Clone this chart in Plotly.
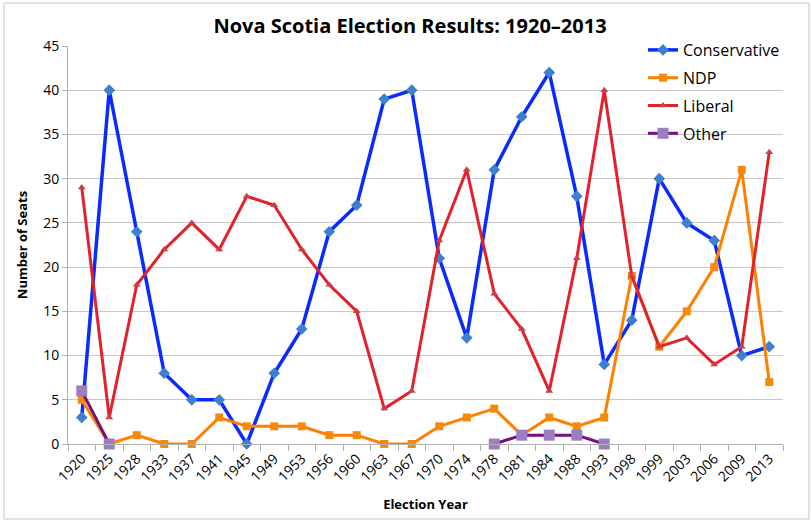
import plotly.graph_objects as go

years = ["1920", "1925", "1928", "1933", "1937", "1941", "1945", "1949", "1953", "1956",
         "1960", "1963", "1967", "1970", "1974", "1978", "1981", "1984", "1988", "1993",
         "1998", "1999", "2003", "2006", "2009", "2013"]

conservative = [3, 40, 24, 8, 5, 5, 0, 8, 13, 24, 27, 39, 40, 21, 12, 31, 37, 42, 28, 9,
                14, 30, 25, 23, 10, 11]
ndp = [5, 0, 1, 0, 0, 3, 2, 2, 2, 1, 1, 0, 0, 2, 3, 4, 1, 3, 2, 3,
       19, 11, 15, 20, 31, 7]
liberal = [29, 3, 18, 22, 25, 22, 28, 27, 22, 18, 15, 4, 6, 23, 31, 17, 13, 6, 21, 40,
           19, 11, 12, 9, 11, 33]
other = [6, 0, None, None, None, None, None, None, None, None, None, None, None, None, None,
         0, 1, 1, 1, 0, None, None, None, None, None, None]

W, H = 811, 520
L, R, T, B = 68, 28, 46, 76
pw, ph = W - L - R, H - T - B

fig = go.Figure()

series = [
    ("Conservative", conservative, "#0A2BFF", "#3F7FD0", "diamond", 9, 3.5),
    ("NDP", ndp, "#FF8000", "#F5890C", "square", 8, 3),
    ("Liberal", liberal, "#E3212B", "#C9404A", "triangle-up", 7, 3),
    ("Other", other, "#730F7E", "#9A7EBF", "square", 11, 3),
]
for i, (name, vals, lc, mc, sym, ms, lw) in enumerate(series):
    fig.add_trace(go.Scatter(
        x=years, y=vals, name=name, mode="lines+markers",
        line=dict(color=lc, width=lw),
        marker=dict(color=mc, symbol=sym, size=ms, line=dict(width=0)),
        connectgaps=False, legendgroup=name, cliponaxis=False,
    ))

def px_x(p):
    return (p - L) / pw

def px_y(p):
    return (H - B - p) / ph

shapes = [
    # white box behind legend (hides gridlines)
    dict(type="rect", xref="paper", yref="paper", layer="between",
         x0=px_x(667), x1=px_x(790), y0=px_y(142), y1=px_y(38),
         fillcolor="white", line=dict(width=0)),
    # outer chart border
    dict(type="rect", xref="paper", yref="paper", layer="above",
         x0=px_x(4), x1=px_x(809), y0=px_y(519), y1=px_y(3),
         fillcolor="rgba(0,0,0,0)", line=dict(color="#C4C4C4", width=1)),
]

font_family = "Open Sans, Lato, sans-serif"

fig.update_layout(
    width=W, height=H,
    margin=dict(l=L, r=R, t=T, b=B),
    paper_bgcolor="white", plot_bgcolor="white",
    title=dict(text="<b>Nova Scotia Election Results: 1920–2013</b>",
               x=(410) / W, xanchor="center", y=1 - 26 / H, yanchor="middle",
               font=dict(family=font_family, size=20, color="black")),
    font=dict(family=font_family, color="black"),
    showlegend=True,
    legend=dict(x=px_x(643), xanchor="left", y=px_y(33), yanchor="top",
                bgcolor="rgba(0,0,0,0)", font=dict(size=16, color="black"),
                itemwidth=30, tracegroupgap=4, traceorder="grouped"),
    xaxis=dict(type="category", tickangle=-45, tickson="boundaries",
               ticks="outside", ticklen=6, tickcolor="#B0B0B0",
               showline=True, linecolor="#B0B0B0", linewidth=1,
               showgrid=False, tickfont=dict(size=14, color="black"),
               title=dict(text="<b>Election Year</b>", font=dict(size=13), standoff=15),
               range=[-0.5, len(years) - 0.5]),
    yaxis=dict(range=[0, 45], dtick=5, ticks="outside", ticklen=5, tickcolor="#B0B0B0",
               showline=True, linecolor="#B0B0B0", linewidth=1,
               showgrid=True, gridcolor="#C8C8C8", gridwidth=1, zeroline=False,
               tickfont=dict(size=14, color="black"),
               title=dict(text="<b>Number of Seats</b>", font=dict(size=13), standoff=12)),
    shapes=shapes,
)

fig.write_html("out.html")
